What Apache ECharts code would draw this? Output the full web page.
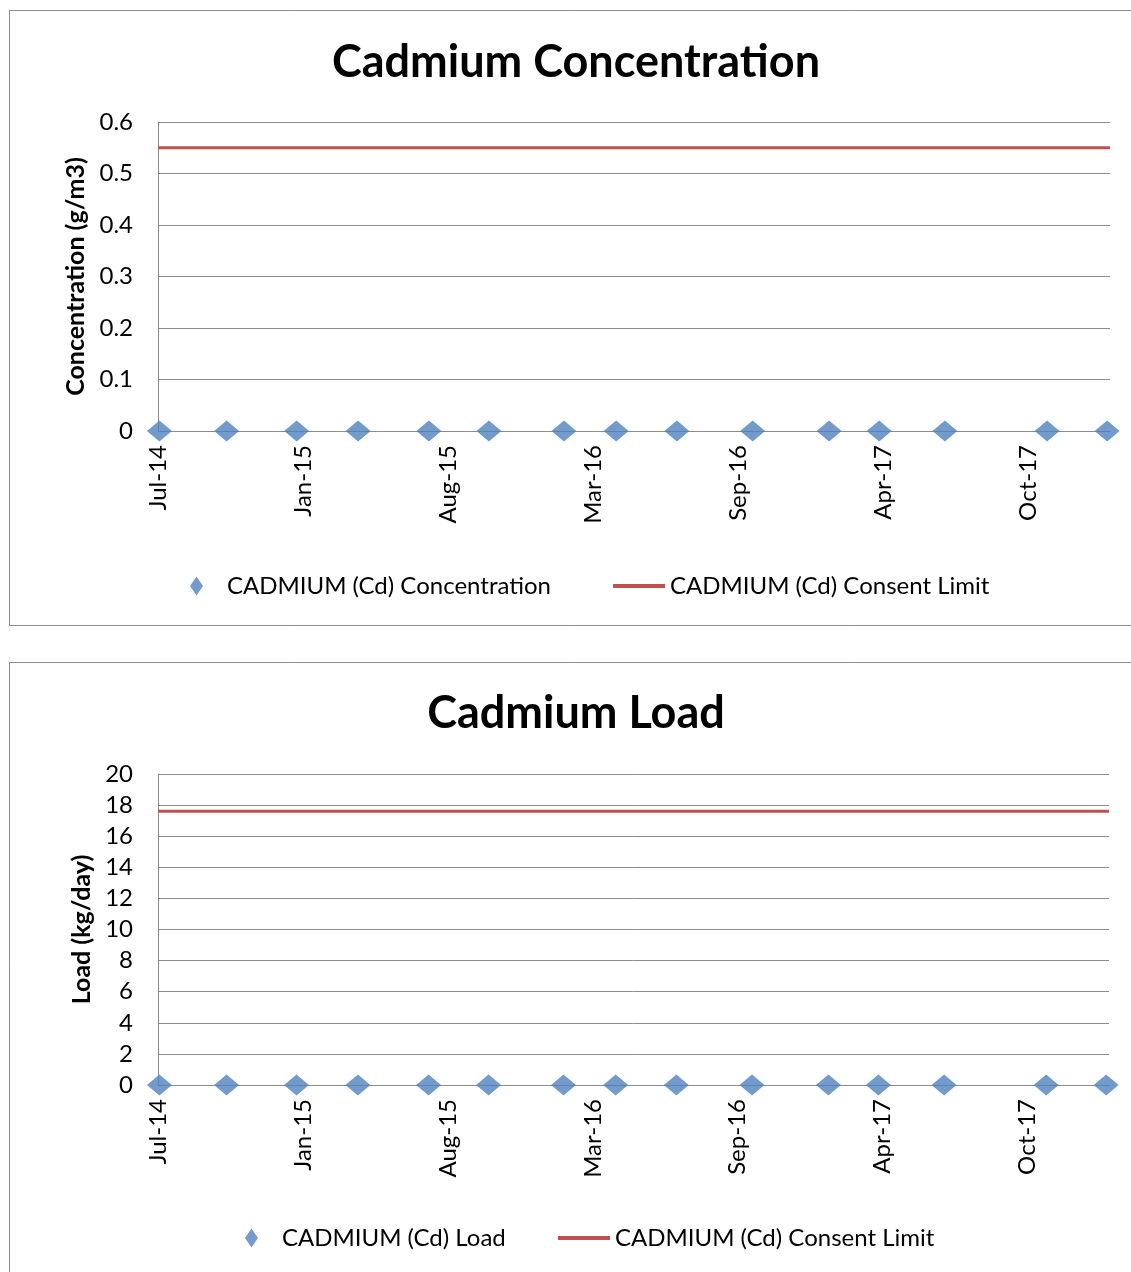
<!DOCTYPE html>
<html>
<head>
<meta charset="utf-8">
<title>Cadmium Concentration and Load</title>
<script src="https://cdn.jsdelivr.net/npm/echarts@6/dist/echarts.min.js"></script>
<style>
  html, body { margin: 0; padding: 0; background: #ffffff; }
  #chart { width: 1131px; height: 1272px; }
</style>
</head>
<body>
<div id="chart"></div>
<script>
// Sampling dates (shared by both panels)
const sampleDates = [
  '2014-07-03', '2014-10-05', '2015-01-11', '2015-04-07', '2015-07-15',
  '2015-10-07', '2016-01-20', '2016-04-02', '2016-06-26', '2016-10-10',
  '2017-01-25', '2017-04-05', '2017-07-06', '2017-11-26', '2018-02-18'
];
// Cadmium concentration (g/m3) at each sampling date
const concentration = [0, 0, 0, 0, 0, 0, 0, 0, 0, 0, 0, 0, 0, 0, 0];
// Cadmium load (kg/day) at each sampling date
const load = [0, 0, 0, 0, 0, 0, 0, 0, 0, 0, 0, 0, 0, 0, 0];
// Consent limits and the period they cover
const concentrationLimit = 0.55;
const loadLimit = 17.6;
const consentPeriod = ['2014-07-01', '2018-02-22'];
// Date axis: origin, label step (days)
const axisOrigin = '2014-07-01';
const dateLabelStep = 203;
// Value axis ticks
const concTicks = { min: 0, max: 0.6, interval: 0.1 };
const loadTicks = { min: 0, max: 20, interval: 2 };

const DAY = 86400000;
const originMs = Date.parse(axisOrigin + 'T00:00:00Z');
const toDay = s => Math.round((Date.parse(s + 'T00:00:00Z') - originMs) / DAY);
const MONTHS = ['Jan','Feb','Mar','Apr','May','Jun','Jul','Aug','Sep','Oct','Nov','Dec'];
const dayLabel = d => {
  const dt = new Date(originMs + d * DAY);
  return MONTHS[dt.getUTCMonth()] + '-' + String(dt.getUTCFullYear() % 100).padStart(2, '0');
};

const FONT = 'Lato, "Open Sans", sans-serif';
const BLUE = '#4F81BD';
const RED = '#C0504D';
const GRID = '#8C8C8C';

const xStart = toDay(consentPeriod[0]);
const xEnd = toDay(consentPeriod[1]);

function xAxisFor(gridIndex) {
  return {
    type: 'value', gridIndex,
    min: xStart, max: xEnd, interval: dateLabelStep,
    axisLine: { show: true, lineStyle: { color: GRID, width: 1 } },
    axisTick: { show: false },
    splitLine: { show: false },
    axisLabel: {
      rotate: 90, margin: 14, color: '#000', fontFamily: FONT, fontSize: 24,
      showMaxLabel: false,
      formatter: v => dayLabel(v)
    }
  };
}
function yAxisFor(gridIndex, ticks, name, nameGap) {
  return {
    type: 'value', gridIndex,
    min: ticks.min, max: ticks.max, interval: ticks.interval,
    name, nameLocation: 'middle', nameRotate: 90, nameGap,
    nameTextStyle: { color: '#000', fontFamily: FONT, fontSize: 25, fontWeight: 'bold' },
    axisLine: { show: true, lineStyle: { color: GRID, width: 1 } },
    axisTick: { show: false },
    splitLine: { show: true, lineStyle: { color: GRID, width: 1 } },
    axisLabel: {
      margin: 25, color: '#000', fontFamily: FONT, fontSize: 24,
      formatter: v => String(+v.toFixed(2))
    }
  };
}

const pts = vals => sampleDates.map((d, i) => [toDay(d), vals[i]]);
const limitPts = lim => consentPeriod.map(d => [toDay(d), lim]);

const legendText = { color: '#000', fontFamily: FONT, fontSize: 24 };

const option = {
  animation: false,
  backgroundColor: '#ffffff',
  graphic: [
    { type: 'rect', shape: { x: 9.5, y: 10.5, width: 1140, height: 615 },
      style: { fill: 'none', stroke: '#8C8C8C', lineWidth: 1 }, silent: true },
    { type: 'rect', shape: { x: 9.5, y: 662.5, width: 1140, height: 640 },
      style: { fill: 'none', stroke: '#8C8C8C', lineWidth: 1 }, silent: true }
  ],
  title: [
    { text: 'Cadmium Concentration', left: 571, top: 35, textAlign: 'center',
      textStyle: { fontFamily: FONT, fontSize: 45, fontWeight: 'bold', color: '#000' } },
    { text: 'Cadmium Load', left: 571, top: 686, textAlign: 'center',
      textStyle: { fontFamily: FONT, fontSize: 45, fontWeight: 'bold', color: '#000' } }
  ],
  legend: [
    { left: 185, top: 569, itemWidth: 13, itemHeight: 19,
      data: [{ name: 'CADMIUM (Cd) Concentration', icon: 'diamond' }],
      textStyle: Object.assign({ padding: [0, 0, 0, 19] }, legendText) },
    { left: 608, top: 569, itemWidth: 52, itemHeight: 4,
      data: [{ name: 'CADMIUM (Cd) Consent Limit', icon: 'rect' }],
      textStyle: legendText },
    { left: 240, top: 1221, itemWidth: 13, itemHeight: 19,
      data: [{ name: 'CADMIUM (Cd) Load', icon: 'diamond' }],
      textStyle: Object.assign({ padding: [0, 0, 0, 19] }, legendText) },
    { left: 553, top: 1221, itemWidth: 52, itemHeight: 4,
      data: [{ name: 'CADMIUM (Cd) Consent Limit ', icon: 'rect' }],
      textStyle: legendText }
  ],
  grid: [
    { left: 158, top: 122, width: 952, height: 309 },
    { left: 158, top: 774, width: 951, height: 311 }
  ],
  xAxis: [xAxisFor(0), xAxisFor(1)],
  yAxis: [
    yAxisFor(0, concTicks, 'Concentration (g/m3)', 68),
    yAxisFor(1, loadTicks, 'Load (kg/day)', 61)
  ],
  series: [
    { name: 'CADMIUM (Cd) Consent Limit', type: 'line', xAxisIndex: 0, yAxisIndex: 0,
      data: limitPts(concentrationLimit), symbol: 'none',
      lineStyle: { color: RED, width: 3 }, itemStyle: { color: RED } },
    { name: 'CADMIUM (Cd) Concentration', type: 'scatter', xAxisIndex: 0, yAxisIndex: 0,
      data: pts(concentration), symbol: 'diamond', symbolSize: [25, 21],
      itemStyle: { color: BLUE }, z: 5 },
    { name: 'CADMIUM (Cd) Consent Limit ', type: 'line', xAxisIndex: 1, yAxisIndex: 1,
      data: limitPts(loadLimit), symbol: 'none',
      lineStyle: { color: RED, width: 3 }, itemStyle: { color: RED } },
    { name: 'CADMIUM (Cd) Load', type: 'scatter', xAxisIndex: 1, yAxisIndex: 1,
      data: pts(load), symbol: 'diamond', symbolSize: [25, 21],
      itemStyle: { color: BLUE }, z: 5 }
  ]
};

const chart = echarts.init(document.getElementById('chart'), null, { renderer: 'canvas' });
chart.setOption(option);
</script>
</body>
</html>
